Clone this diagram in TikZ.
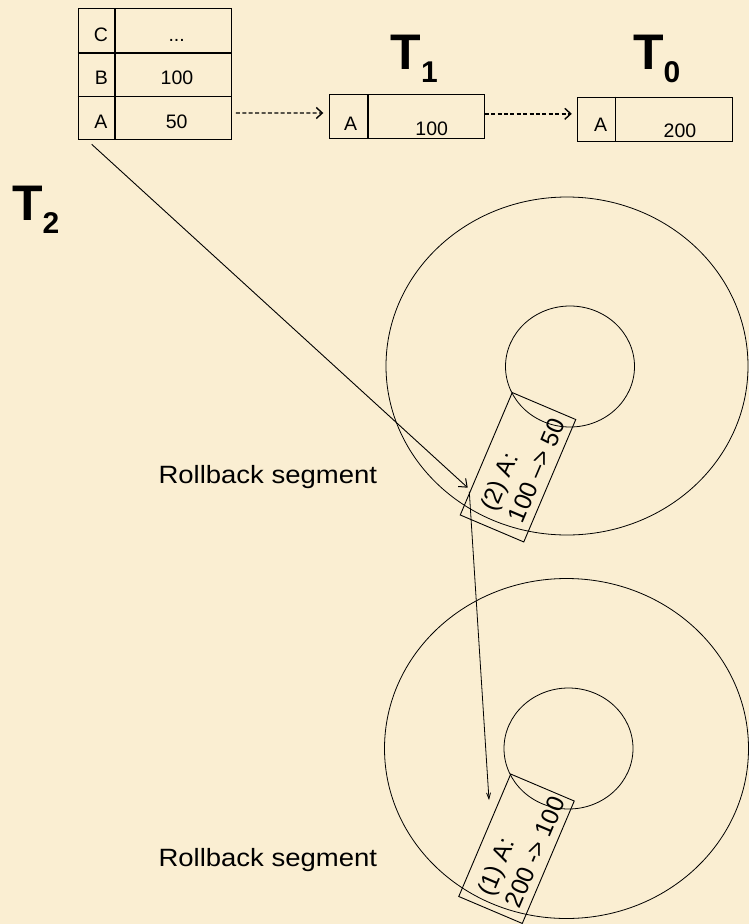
\documentclass[tikz,border=0pt]{standalone}
\usepackage{fontspec}
\setmainfont{Liberation Sans}
\usetikzlibrary{arrows.meta,calc}
\definecolor{parch}{RGB}{250,238,210}
\begin{document}
\begin{tikzpicture}[x=1pt,y=-1pt,
  cell/.style={draw, line width=0.9pt, inner sep=0pt, anchor=north west, minimum height=43.7pt},
  divline/.style={line width=1.7pt},
  txt/.style={inner sep=0pt, anchor=base, font=\fontsize{19.5}{23}\selectfont},
  big/.style={inner sep=0pt, anchor=base west, font=\fontsize{50}{60}\selectfont\bfseries},
  darr/.style={line width=1.4pt, dash pattern=on 4pt off 2.4pt, -{Straight Barb[length=6pt,width=11pt,line width=1.4pt]}},
  larr/.style={line width=0.9pt, -{Straight Barb[length=7pt,width=11pt,line width=1pt]}},
  sarr/.style={line width=0.8pt, -{Straight Barb[length=6pt,width=4pt,line width=0.8pt]}},
  ring/.style={line width=0.8pt},
  rbox/.style={draw, line width=0.9pt, rotate=67, minimum width=133pt, minimum height=69pt, inner sep=0pt},
  rtxt/.style={rotate=67, align=left, inner sep=0pt, font=\fontsize{24.5}{30}\selectfont},
  rlab/.style={inner sep=0pt, anchor=base west, font=\fontsize{25}{30}\selectfont}
]
\fill[parch] (0,0) rectangle (749,924);
\useasboundingbox (0,0) rectangle (749,924);

% table T2
\node[cell, minimum width=36.6pt] (cC) at (77.7,8.3) {};
\node[cell, minimum width=116.7pt] (vC) at (114.3,8.3) {};
\node[cell, minimum width=36.6pt] (cB) at (77.7,52.0) {};
\node[cell, minimum width=116.7pt] (vB) at (114.3,52.0) {};
\node[cell, minimum width=36.6pt] (cA) at (77.7,95.7) {};
\node[cell, minimum width=116.7pt] (vA) at (114.3,95.7) {};
\draw[divline] (cC.north east) -- (cA.south east);
\draw[divline] (cC.south west) -- (vC.south east);
\draw[divline] (cB.south west) -- (vB.south east);
\node[txt] (tC) at (101,41) {C};
\node[txt] (tCv) at (176.7,41) {...};
\node[txt] (tB) at (101.5,84) {B};
\node[txt] (tBv) at (177,84) {100};
\node[txt] (tA) at (101,128) {A};
\node[txt] (tAv) at (176.7,128) {50};

% T1 box
\node[cell, line width=1pt, minimum height=44pt, minimum width=37.7pt] (a1) at (329.3,94.3) {};
\node[cell, line width=1pt, minimum height=44pt, minimum width=116.7pt] (v1) at (367,94.3) {};
\draw[line width=1.4pt] (a1.north east) -- (a1.south east);
\node[txt] (ta1) at (350.5,130) {A};
\node[txt] (tv1) at (431.7,135) {100};

% T0 box
\node[cell, line width=1pt, minimum height=44pt, minimum width=37.4pt] (a0) at (577.3,96.7) {};
\node[cell, line width=1pt, minimum height=44pt, minimum width=117.6pt] (v0) at (614.7,96.7) {};
\draw[line width=1.4pt] (a0.north east) -- (a0.south east);
\node[txt] (ta0) at (600.5,131) {A};
\node[txt] (tv0) at (680,137) {200};

% labels
\node[big] (T1) at (390.5,69) {T\raisebox{-13pt}{\fontsize{30}{36}\selectfont 1}};
\node[big] (T0) at (633,69) {T\raisebox{-13pt}{\fontsize{30}{36}\selectfont 0}};
\node[big] (T2) at (12,220.7) {T\raisebox{-12.5pt}{\fontsize{30}{36}\selectfont 2}};

% dashed arrows
\draw[darr, shorten <=4pt, shorten >=6pt] ([yshift=5pt]vA.east) -- ([yshift=3.8pt]a1.west);
\draw[darr, shorten >=5.5pt] ([yshift=3pt]v1.east) -- ([yshift=5.4pt]a0.west);

% rings
\draw[ring] (567,366) ellipse [x radius=181pt, y radius=169pt];
\draw[ring] (570,366.5) ellipse [x radius=64.5pt, y radius=60.5pt];
\draw[ring] (566.5,748.5) ellipse [x radius=182pt, y radius=170pt];
\draw[ring] (568.5,748.5) ellipse [x radius=64.5pt, y radius=60.5pt];

% rotated boxes
\node[rbox] (rb2) at (518,467.25) {};
\node[rtxt] (rt2) at (522.5,464.5) {(2) A:\\100 –> 50};
\node[rbox] (rb1) at (516.5,848.75) {};
\node[rtxt] (rt1) at (521,846) {(1) A:\\200 -> 100};

% rollback labels
\node[rlab] (rs2) at (158.3,483.3) {\scalebox{1.1}[1]{Rollback segment}};
\node[rlab] (rs1) at (158.3,866) {\scalebox{1.1}[1]{Rollback segment}};

% long arrows
\coordinate (e2) at (467.7,487.7);
\coordinate (s1) at (469.3,491.7);
\coordinate (e1) at (489,800);
\draw[larr] ([xshift=14pt,yshift=-4pt]cA.south west) -- (e2);
\draw[sarr] (s1) -- (e1);
\end{tikzpicture}
\end{document}
